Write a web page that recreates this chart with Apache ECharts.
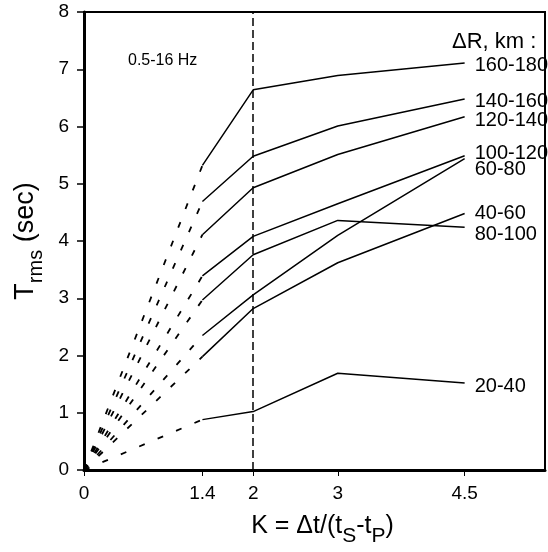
<!DOCTYPE html>
<html>
<head>
<meta charset="utf-8">
<script src="https://cdn.jsdelivr.net/npm/echarts@6/dist/echarts.min.js"></script>
<style>
html,body{margin:0;padding:0;background:#fff;}
#chart{width:548px;height:552px;}
</style>
</head>
<body>
<div id="chart"></div>
<script>
// ---- data ----
const xTicks = [0, 1.4, 2, 3, 4.5];
const yTicks = [0, 1, 2, 3, 4, 5, 6, 7, 8];
const xSolid = [1.4, 2, 3, 4.5];
const ranges = ['20-40', '40-60', '60-80', '80-100', '100-120', '120-140', '140-160', '160-180'];
const v20_40   = [0.88, 1.02, 1.69, 1.52];
const v40_60   = [1.98, 2.82, 3.62, 4.48];
const v60_80   = [2.35, 3.06, 4.10, 5.44];
const v80_100  = [2.97, 3.76, 4.36, 4.24];
const v100_120 = [3.39, 4.08, 4.65, 5.49];
const v120_140 = [4.11, 4.93, 5.51, 6.17];
const v140_160 = [4.69, 5.48, 6.01, 6.48];
const v160_180 = [5.32, 6.64, 6.89, 7.11];
const values = [v20_40, v40_60, v60_80, v80_100, v100_120, v120_140, v140_160, v160_180];
const refX = 2;

// ---- label nudges (layout only) ----
const labelDy = {'20-40':4,'40-60':0,'60-80':11,'80-100':7,'100-120':-2,'120-140':4,'140-160':2,'160-180':3};

const FONT = 'Liberation Sans, Arial, Helvetica, sans-serif';
const series = [];
ranges.forEach((r, i) => {
  const v = values[i];
  series.push({
    type: 'line', name: r + ' extrap', symbol: 'none', silent: true,
    data: [[0, 0], [xSolid[0], v[0]]],
    lineStyle: {color: '#000', width: 1.8, type: [6, 14]},
    z: 3
  });
  const s = {
    type: 'line', name: r, symbol: 'none', silent: true,
    data: xSolid.map((x, j) => [x, v[j]]),
    lineStyle: {color: '#000', width: 1.5},
    endLabel: {show: true, formatter: r, distance: 10, offset: [0, labelDy[r]],
      color: '#000', fontSize: 20, fontFamily: FONT},
    z: 4
  };
  if (i === 0) {
    s.markLine = {
      symbol: 'none', silent: true, label: {show: false},
      lineStyle: {color: '#000', width: 1.5, type: [8, 4]},
      data: [{xAxis: refX}]
    };
  }
  series.push(s);
});

const chart = echarts.init(document.getElementById('chart'), null, {renderer: 'canvas'});
chart.setOption({
  animation: false,
  backgroundColor: '#fff',
  textStyle: {fontFamily: FONT},
  grid: {left: 84, right: 3, top: 12, bottom: 78, show: true, borderColor: '#000', borderWidth: 2, backgroundColor: 'transparent'},
  xAxis: {
    type: 'value', min: 0, max: 5.45,
    axisLine: {show: true, lineStyle: {color: '#000', width: 3}},
    axisTick: {show: true, customValues: xTicks, length: 6, lineStyle: {color: '#000', width: 1}},
    axisLabel: {customValues: xTicks, color: '#000', fontSize: 19, fontFamily: FONT, margin: 14},
    splitLine: {show: false},
    name: '{a|K = Δt/(t}{s|S}{a|-t}{s|P}{a|)}',
    nameLocation: 'middle', nameGap: 44,
    nameTextStyle: {
      padding: [0, 0, 0, 16],
      rich: {
        a: {fontSize: 25, fontFamily: FONT, color: '#000', padding: [0, 0, 8, 0], verticalAlign: 'bottom'},
        s: {fontSize: 21, fontFamily: FONT, color: '#000', verticalAlign: 'bottom'}
      }
    }
  },
  yAxis: {
    type: 'value', min: 0, max: 8, interval: 1,
    axisLine: {show: true, lineStyle: {color: '#000', width: 3}},
    axisTick: {show: true, length: 7, lineStyle: {color: '#000', width: 1.5}},
    axisLabel: {color: '#000', fontSize: 19, fontFamily: FONT, margin: 15,
      customValues: yTicks},
    splitLine: {show: false},
    name: '{a|T}{s|rms}{a| (sec)}',
    nameLocation: 'middle', nameGap: 38, nameRotate: 90,
    nameTextStyle: {
      rich: {
        a: {fontSize: 27, fontFamily: FONT, color: '#000', padding: [0, 0, 7, 0], verticalAlign: 'bottom'},
        s: {fontSize: 20, fontFamily: FONT, color: '#000', verticalAlign: 'bottom'}
      }
    }
  },
  graphic: [
    {type: 'text', left: 128, top: 53, silent: true,
      style: {text: '0.5-16 Hz', font: '16px ' + FONT, fill: '#000'}},
    {type: 'text', left: 452, top: 31, silent: true,
      style: {text: 'ΔR, km :', font: '22px ' + FONT, fill: '#000'}}
  ],
  series: series
});
</script>
</body>
</html>
